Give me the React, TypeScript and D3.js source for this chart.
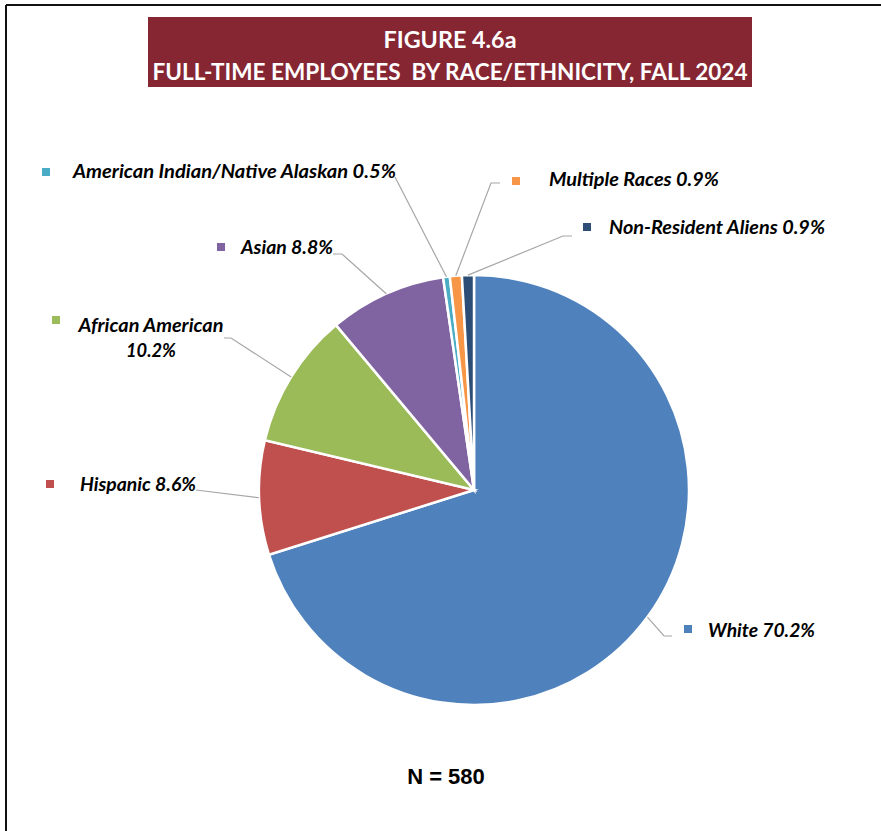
import React from 'react';
import * as d3 from 'd3';

// ---- data ----
const categories = [
  'White',
  'Hispanic',
  'African American',
  'Asian',
  'American Indian/Native Alaskan',
  'Multiple Races',
  'Non-Resident Aliens',
];
const percents = [70.2, 8.6, 10.2, 8.8, 0.5, 0.9, 0.9];
const colors = ['#4F81BD', '#C0504D', '#9BBB59', '#8064A2', '#4BACC6', '#F79646', '#2C4D75'];
const titleLines = ['FIGURE 4.6a', 'FULL-TIME EMPLOYEES  BY RACE/ETHNICITY, FALL 2024'];
const totalN = 580;

// ---- layout (label placement) ----
type LabelLayout = {
  sq: [number, number];
  tx: number;
  ty: number;
  w: number;
  split?: boolean;
  center?: number;
  w2?: number;
  anchor: [number, number];
  elbow: [number, number];
};
const labelLayout: LabelLayout[] = [
  { sq: [688, 629], tx: 708, ty: 637, w: 107, anchor: [672, 636], elbow: [664, 636] },
  { sq: [50, 484], tx: 80, ty: 491, w: 116, anchor: [196, 490], elbow: [196, 490] },
  { sq: [56, 320], tx: 78, ty: 332, w: 145, split: true, center: 151, w2: 50, anchor: [224, 338], elbow: [231, 338] },
  { sq: [221, 247], tx: 241, ty: 254, w: 92, anchor: [333, 254], elbow: [342, 254] },
  { sq: [46, 172], tx: 73, ty: 178, w: 323, anchor: [395, 177], elbow: [395, 177] },
  { sq: [516, 181], tx: 549, ty: 186, w: 170, anchor: [500, 183], elbow: [491, 183] },
  { sq: [587, 227], tx: 609, ty: 234, w: 216, anchor: [572, 236], elbow: [563, 236] },
];

const W = 881;
const H = 831;
const cx = 474;
const cy = 490;
const R = 215;

export default function App() {
  const pie = d3
    .pie<number>()
    .sort(null)
    .value((d) => d)
    .startAngle(0)
    .endAngle(2 * Math.PI);
  const arcs = pie(percents);
  const arc = d3.arc<d3.PieArcDatum<number>>().innerRadius(0).outerRadius(R);

  const labelFont = "Lato, 'Open Sans', sans-serif";
  const lfs = 19;

  return (
    <svg
      width={W}
      height={H}
      style={{ position: 'absolute', left: 0, top: 0, background: '#fff' }}
    >
      {/* frame */}
      <line x1={6} y1={5} x2={W} y2={5} stroke="#111" strokeWidth={2} />
      <line x1={6} y1={5} x2={6} y2={H} stroke="#111" strokeWidth={2} />

      {/* title */}
      <rect x={148} y={17} width={604} height={70} fill="#862633" />
      <text
        x={450}
        y={48}
        textAnchor="middle"
        fill="#fff"
        fontFamily={labelFont}
        fontWeight={700}
        fontSize={23}
        textLength={133}
        lengthAdjust="spacingAndGlyphs"
      >
        {titleLines[0]}
      </text>
      <text
        x={450}
        y={80}
        textAnchor="middle"
        fill="#fff"
        fontFamily={labelFont}
        fontWeight={700}
        fontSize={23}
        textLength={595}
        lengthAdjust="spacingAndGlyphs"
        style={{ whiteSpace: 'pre' }}
      >
        {titleLines[1]}
      </text>

      {/* pie */}
      <g transform={`translate(${cx},${cy})`}>
        {arcs.map((a, i) => (
          <path key={i} d={arc(a) || ''} fill={colors[i]} stroke="#fff" strokeWidth={2.5} />
        ))}
      </g>

      {/* leader lines + labels */}
      {arcs.map((a, i) => {
        const L = labelLayout[i];
        const mid = (a.startAngle + a.endAngle) / 2;
        const px = cx + R * Math.sin(mid);
        const py = cy - R * Math.cos(mid);
        const pct = percents[i].toFixed(1) + '%';
        const path = d3.path();
        path.moveTo(L.anchor[0], L.anchor[1]);
        path.lineTo(L.elbow[0], L.elbow[1]);
        path.lineTo(px, py);
        return (
          <g key={i}>
            <path d={path.toString()} fill="none" stroke="#A6A6A6" strokeWidth={1.2} />
            <rect x={L.sq[0] - 4} y={L.sq[1] - 4} width={8} height={8} fill={colors[i]} />
            {L.split ? (
              <g>
                <text
                  x={L.center}
                  y={L.ty}
                  fontFamily={labelFont}
                  fontWeight={700}
                  fontStyle="italic"
                  fontSize={lfs}
                  fill="#000"
                  textAnchor="middle"
                  textLength={L.w}
                  lengthAdjust="spacingAndGlyphs"
                >
                  {categories[i]}
                </text>
                <text
                  x={L.center}
                  y={L.ty + 25}
                  fontFamily={labelFont}
                  fontWeight={700}
                  fontStyle="italic"
                  fontSize={lfs}
                  fill="#000"
                  textAnchor="middle"
                  textLength={L.w2}
                  lengthAdjust="spacingAndGlyphs"
                >
                  {pct}
                </text>
              </g>
            ) : (
              <text
                x={L.tx}
                y={L.ty}
                fontFamily={labelFont}
                fontWeight={700}
                fontStyle="italic"
                fontSize={lfs}
                fill="#000"
                textLength={L.w}
                lengthAdjust="spacingAndGlyphs"
              >
                {categories[i] + ' ' + pct}
              </text>
            )}
          </g>
        );
      })}

      {/* N */}
      <text
        x={446}
        y={784}
        textAnchor="middle"
        fontFamily="'Liberation Sans', Arial, sans-serif"
        fontWeight={700}
        fontSize={22}
        fill="#000"
      >
        {`N = ${totalN}`}
      </text>
    </svg>
  );
}
